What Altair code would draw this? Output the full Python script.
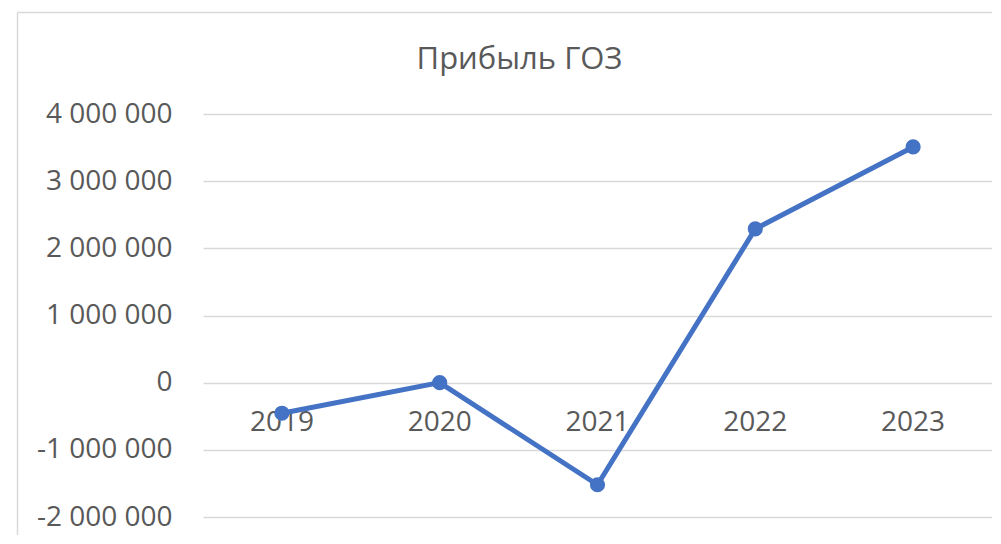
import altair as alt
import pandas as pd

years = ["2019", "2020", "2021", "2022", "2023"]
profit = [-455000, 0, -1520000, 2290000, 3510000]
y_ticks = [-2000000, -1000000, 0, 1000000, 2000000, 3000000, 4000000]
title_text = "Прибыль ГОЗ"

df = pd.DataFrame({"year": years, "profit": profit})
df["zero"] = 0
title_df = pd.DataFrame({"t": [title_text]})

FONT = "Open Sans"
TXT = "#595959"
GRID = "#d9d9d9"
BLUE = "#4472C4"

W, H = 789, 403

x_enc = alt.X("year:O", scale=alt.Scale(type="point", padding=0.5), axis=None)
y_scale = alt.Scale(domain=[-2000000, 4000000], nice=False)

base = alt.Chart(df)

grid = base.mark_line(opacity=0).encode(
    x=x_enc,
    y=alt.Y(
        "profit:Q",
        scale=y_scale,
        title=None,
        axis=alt.Axis(
            values=y_ticks,
            labelExpr="datum.value == 0 ? '0' : (datum.value/1000000) + ' 000 000'",
            domain=False,
            ticks=False,
            tickSize=0,
            labelPadding=31,
            labelFont=FONT,
            labelFontSize=28,
            labelColor=TXT,
            grid=True,
            gridColor=GRID,
            gridWidth=1.5,
        ),
    ),
)

xlabels = base.mark_text(
    font=FONT, fontSize=28, color=TXT, baseline="middle", align="center", dy=40
).encode(x=x_enc, y=alt.Y("zero:Q", scale=y_scale), text="year:N")

line = base.mark_line(color=BLUE, strokeWidth=5).encode(
    x=x_enc, y=alt.Y("profit:Q", scale=y_scale)
)
pts = base.mark_circle(color=BLUE, size=230, opacity=1).encode(
    x=x_enc, y=alt.Y("profit:Q", scale=y_scale)
)

title = alt.Chart(title_df).mark_text(
    font=FONT, fontSize=31, color=TXT, align="center", baseline="alphabetic"
).encode(x=alt.value(316.5), y=alt.value(-44.7), text="t:N")

frame_left = alt.Chart(title_df).mark_rule(color=GRID, strokeWidth=1.5).encode(
    x=alt.value(-185.5), y=alt.value(-101.5), y2=alt.value(600)
)
frame_top = alt.Chart(title_df).mark_rule(color=GRID, strokeWidth=1.5).encode(
    x=alt.value(-185.5), x2=alt.value(900), y=alt.value(-101.5)
)

chart = (
    alt.layer(frame_left, frame_top, grid, xlabels, line, pts, title)
    .properties(
        width=W,
        height=H,
        background="white",
        autosize=alt.AutoSizeParams(type="none"),
        padding={"left": 195, "top": 106, "right": 0, "bottom": 18},
    )
    .configure_view(stroke=None)
)

chart.save("out.html", embed_options={"renderer": "svg", "actions": False})
